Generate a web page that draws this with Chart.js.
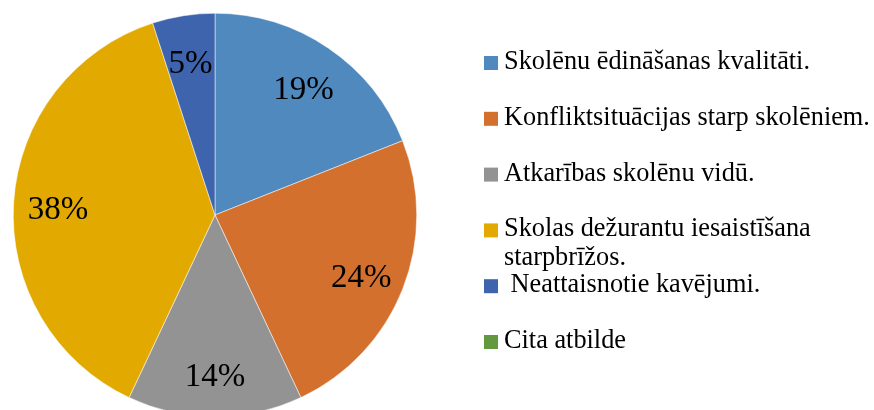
<!DOCTYPE html>
<html lang="en">
<head>
<meta charset="UTF-8">
<title>Pie</title>
<style>
  html, body { margin: 0; padding: 0; background: #fff; overflow: hidden; }
  body { width: 874px; height: 410px; position: relative; }
  canvas { position: absolute; left: 0; top: 0; }
</style>
</head>
<body>
<canvas id="myChart" width="874" height="430"></canvas>

<script src="https://cdn.jsdelivr.net/npm/chart.js"></script>
<script>
const categories = [
  'Skolēnu ēdināšanas kvalitāti.',
  'Konfliktsituācijas starp skolēniem.',
  'Atkarības skolēnu vidū.',
  'Skolas dežurantu iesaistīšana starpbrīžos.',
  ' Neattaisnotie kavējumi.',
  'Cita atbilde'
];
const percents = [19, 24, 14, 38, 5, 0];
const colors = ['#4f89bd', '#d4702d', '#939393', '#e2aa00', '#3e64ad', '#62993e'];

const FONT = '"Liberation Serif", "Times New Roman", serif';

// percentage labels inside the slices
const sliceLabels = {
  id: 'sliceLabels',
  afterDatasetsDraw(chart) {
    const ctx = chart.ctx;
    const arcs = chart.getDatasetMeta(0).data;
    ctx.save();
    ctx.font = '33px ' + FONT;
    ctx.fillStyle = '#000';
    ctx.textAlign = 'center';
    ctx.textBaseline = 'middle';
    arcs.forEach((arc, i) => {
      if (!percents[i]) return;
      const p = arc.getProps(['x', 'y', 'startAngle', 'endAngle', 'outerRadius'], true);
      const mid = (p.startAngle + p.endAngle) / 2;
      const r = p.outerRadius * 0.78;
      ctx.fillText(percents[i] + '%', p.x + Math.cos(mid) * r, p.y + Math.sin(mid) * r + 5);
    });
    ctx.restore();
  }
};

// legend on the right, items on a fixed pitch, long text wraps
const sideLegend = {
  id: 'sideLegend',
  afterDraw(chart) {
    const ctx = chart.ctx;
    const left = 484, textX = 504, maxW = 372, top = 62, pitch = 55.8, lineH = 29;
    ctx.save();
    ctx.font = '26.3px ' + FONT;
    ctx.textBaseline = 'middle';
    ctx.textAlign = 'left';
    categories.forEach((name, i) => {
      const y = top + i * pitch;
      ctx.fillStyle = colors[i];
      ctx.fillRect(left, y - 6, 14, 14);
      ctx.fillStyle = '#000';
      const lines = [];
      let cur = '';
      name.split(/(?<=\S) /).forEach(w => {
        const t = cur ? cur + ' ' + w : w;
        if (cur && ctx.measureText(t).width > maxW) { lines.push(cur); cur = w; }
        else cur = t;
      });
      lines.push(cur);
      lines.forEach((ln, k) => ctx.fillText(ln, textX, y + k * lineH));
    });
    ctx.restore();
  }
};

new Chart(document.getElementById('myChart'), {
  type: 'pie',
  data: {
    labels: categories,
    datasets: [{
      data: percents,
      backgroundColor: colors,
      borderColor: '#ffffff',
      borderWidth: 0.5
    }]
  },
  options: {
    responsive: false,
    animation: false,
    layout: { padding: { left: 13, top: 13, right: 457, bottom: 13 } },
    plugins: {
      legend: { display: false },
      tooltip: { enabled: false }
    }
  },
  plugins: [sliceLabels, sideLegend]
});
</script>
</body>
</html>
